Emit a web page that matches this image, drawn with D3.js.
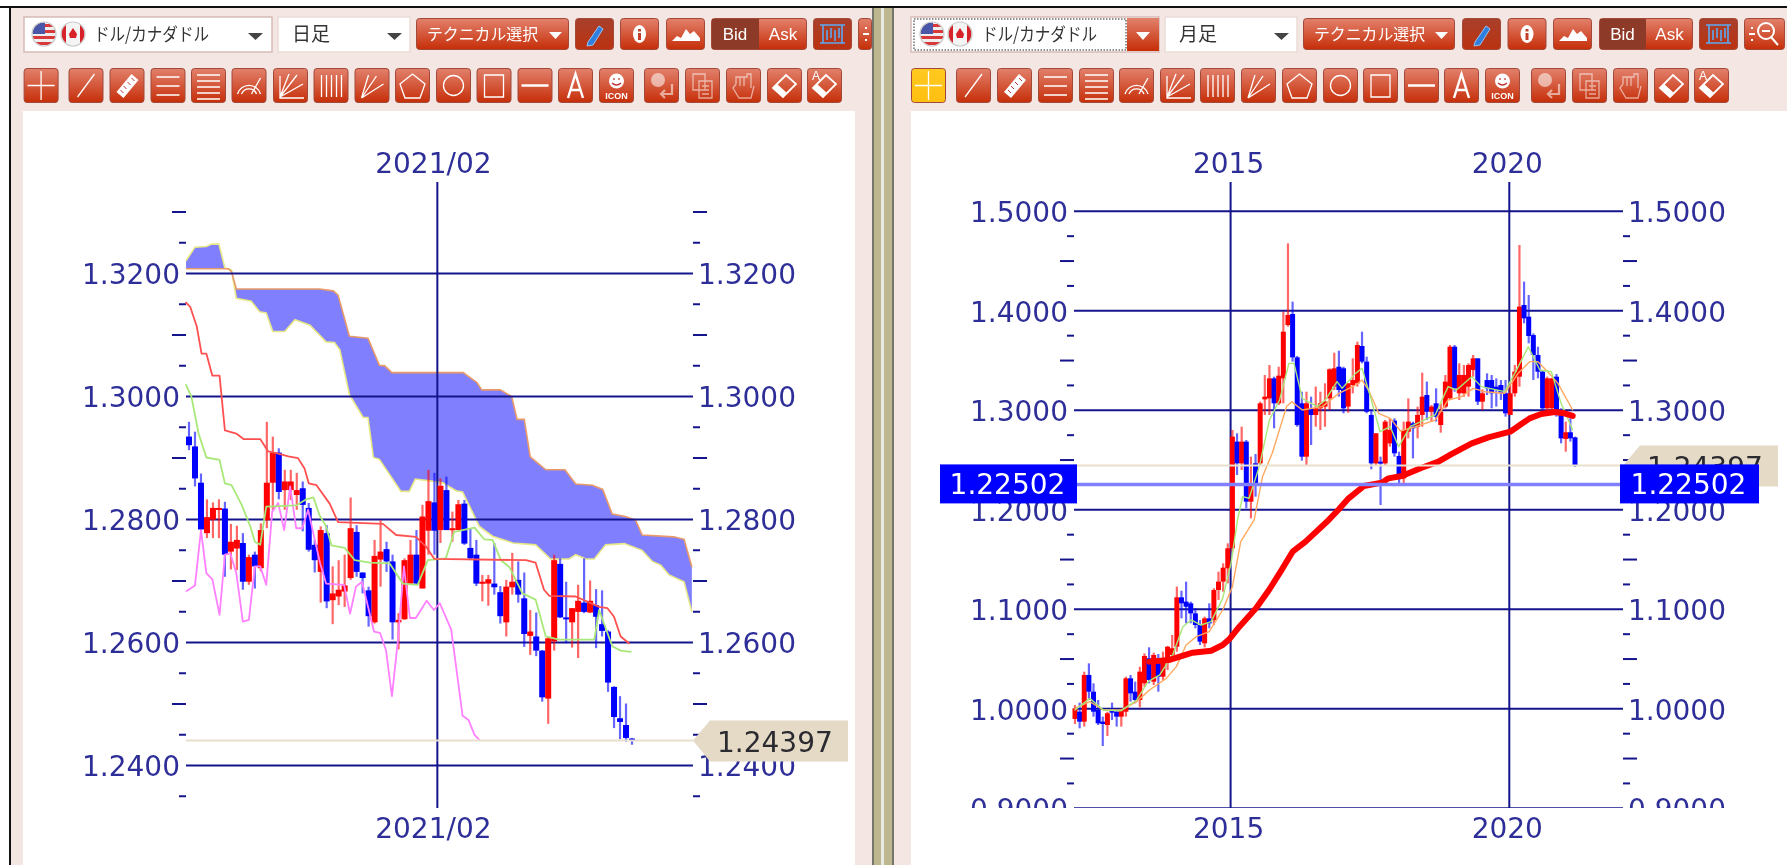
<!DOCTYPE html>
<html>
<head>
<meta charset="utf-8">
<script src="https://cdn.jsdelivr.net/npm/d3@7"></script>
<style>
html, body { margin: 0; padding: 0; background: #fff; overflow: hidden; }
svg { display: block; filter: blur(0.55px); }
.axis text { font: 28px "DejaVu Sans", sans-serif; fill: #2e2e98; }
.axis line { stroke: #14148c; stroke-width: 2; }
.tbtext { font-family: "Liberation Sans", sans-serif; fill: #fff; }
.jp { font-family: "Noto Sans CJK JP", sans-serif; }
</style>
</head>
<body>
<div id="chart"></div>
<script>
// ---- daily chart (left), USD/CAD
const dailyHigh = [
  1.2958,1.2942,1.2874,1.2832,1.2827,1.2832,1.2828,1.2792,1.2789,1.2777,
  1.2742,1.2747,1.2793,1.2958,1.2934,1.2915,1.2880,1.2880,1.2875,1.2861,
  1.2826,1.2766,1.2788,1.2790,1.2723,1.2733,1.2742,1.2835,1.2790,1.2713,
  1.2690,1.2766,1.2798,1.2763,1.2742,1.2647,1.2736,1.2766,1.2782,1.2823,
  1.2880,1.2875,1.2866,1.2869,1.2812,1.2831,1.2831,1.2785,1.2766,1.2709,
  1.2709,1.2761,1.2691,1.2701,1.2745,1.2731,1.2713,1.2652,1.2648,1.2587,
  1.2609,1.2742,1.2736,1.2698,1.2655,1.2693,1.2736,1.2700,1.2686,1.2684,
  1.2619,1.2528,1.2512,1.2500,1.2444];
const dailyOpen = [
  1.2934,1.2918,1.2859,1.2777,1.2799,1.2817,1.2817,1.2747,1.2752,1.2761,
  1.2698,1.2742,1.2720,1.2798,1.2859,1.2908,1.2847,1.2847,1.2839,1.2850,
  1.2818,1.2758,1.2714,1.2777,1.2668,1.2674,1.2682,1.2704,1.2779,1.2713,
  1.2684,1.2632,1.2734,1.2751,1.2731,1.2632,1.2637,1.2695,1.2742,1.2687,
  1.2781,1.2827,1.2782,1.2847,1.2782,1.2782,1.2825,1.2753,1.2742,1.2695,
  1.2695,1.2695,1.2681,1.2632,1.2689,1.2701,1.2671,1.2610,1.2609,1.2586,
  1.2508,1.2601,1.2727,1.2640,1.2632,1.2649,1.2664,1.2648,1.2660,1.2629,
  1.2617,1.2527,1.2476,1.2465,1.2443];
const dailyClose = [
  1.2920,1.2866,1.2783,1.2803,1.2818,1.2818,1.2742,1.2763,1.2766,1.2698,
  1.2738,1.2723,1.2782,1.2859,1.2908,1.2844,1.2861,1.2861,1.2847,1.2823,
  1.2750,1.2733,1.2782,1.2666,1.2679,1.2685,1.2692,1.2785,1.2714,1.2704,
  1.2642,1.2740,1.2747,1.2731,1.2632,1.2636,1.2733,1.2742,1.2695,1.2804,
  1.2829,1.2781,1.2854,1.2782,1.2785,1.2824,1.2760,1.2736,1.2695,1.2698,
  1.2702,1.2689,1.2642,1.2690,1.2698,1.2677,1.2613,1.2617,1.2586,1.2510,
  1.2606,1.2733,1.2640,1.2637,1.2655,1.2667,1.2649,1.2667,1.2641,1.2618,
  1.2534,1.2478,1.2470,1.2444,1.2441];
const dailyLow = [
  1.2912,1.2853,1.2782,1.2769,1.2769,1.2769,1.2706,1.2718,1.2717,1.2685,
  1.2693,1.2687,1.2715,1.2785,1.2815,1.2832,1.2815,1.2831,1.2815,1.2780,
  1.2747,1.2713,1.2664,1.2655,1.2629,1.2660,1.2657,1.2701,1.2706,1.2679,
  1.2625,1.2630,1.2690,1.2714,1.2604,1.2588,1.2636,1.2693,1.2693,1.2687,
  1.2742,1.2742,1.2761,1.2782,1.2763,1.2782,1.2758,1.2733,1.2691,1.2666,
  1.2659,1.2677,1.2630,1.2609,1.2677,1.2664,1.2592,1.2579,1.2577,1.2503,
  1.2467,1.2586,1.2639,1.2598,1.2591,1.2574,1.2647,1.2647,1.2590,1.2609,
  1.2519,1.2460,1.2442,1.2438,1.2433];

const spanAIdx = [-0.5,1,2.9,3.8,5,6,7.1,7.9,10.4,11.8,12.9,14,16,17.7,20.2,22.9,24.3,25.2,26.8,29.1,29.9,30.8,31.8,35.4,36.8,37.8,40.2,42.4,44.6,45.7,48.5,50.7,54.1,57.9,60.4,63.5,64.6,66.3,67.7,69.6,72.7,75.7,77.4,78.8,80.2,82.7,84];
const spanAVal = [1.3220,1.3242,1.3243,1.3247,1.3247,1.3208,1.3205,1.3159,1.3154,1.3137,1.3135,1.3105,1.3105,1.3124,1.3115,1.3088,1.3087,1.3075,1.3002,1.2965,1.2965,1.2900,1.2897,1.2845,1.2845,1.2865,1.2862,1.2859,1.2846,1.2844,1.2788,1.2772,1.2761,1.2758,1.2735,1.2735,1.2742,1.2735,1.2735,1.2758,1.2760,1.2749,1.2731,1.2725,1.2709,1.2698,1.2649];
const spanBIdx = [-0.5,6.6,7.1,7.9,21.8,24.1,24.9,26.8,29.9,31.8,32.7,33.9,45.8,48.1,48.9,52,53.9,54.8,56,57,59.6,62.8,64.6,67.4,69.1,70.7,72.9,74.6,75.7,81,82.7,84];
const spanBVal = [1.3207,1.3207,1.3202,1.3174,1.3174,1.3171,1.3164,1.3097,1.3094,1.3050,1.3049,1.3038,1.3038,1.3022,1.3010,1.3010,1.2999,1.2962,1.2962,1.2901,1.2880,1.2880,1.2857,1.2855,1.2848,1.2808,1.2804,1.2798,1.2774,1.2771,1.2767,1.2722];
const kijunIdx = [-0.5,0.2,1.3,2.1,2.9,3.9,5.1,6,7.9,9.1,11.9,13.2,14.6,16.6,18.2,19.3,20,21.3,23.5,24.9,32.4,34.6,37.9,39.6,41,56.3,57.9,59.3,60.2,64.6,68.5,69.9,71,72.1,73.5];
const kijunVal = [1.3152,1.3145,1.3113,1.3069,1.3069,1.3033,1.3033,1.2944,1.2939,1.2930,1.2930,1.2910,1.2907,1.2902,1.2899,1.2882,1.2858,1.2855,1.2825,1.2795,1.2792,1.2774,1.2771,1.2755,1.2735,1.2733,1.2729,1.2685,1.2675,1.2674,1.2657,1.2655,1.2641,1.2609,1.2598];
const tenkanIdx = [-0.5,0.4,1.6,2.9,5.1,6,7.1,8.8,10.2,11,11.9,12.9,17.9,19.6,20.8,21.8,22.9,23.8,26,27.7,30.2,33.5,35.7,38.2,39.9,42.9,44.3,47.7,49.3,50.7,52.1,53.5,55.7,57.9,59.6,61.8,67.7,68.5,70.7,72.1,73.8];
const tenkanVal = [1.3018,1.2999,1.2939,1.2900,1.2896,1.2858,1.2855,1.2823,1.2789,1.2763,1.2758,1.2820,1.2822,1.2832,1.2835,1.2806,1.2788,1.2757,1.2753,1.2733,1.2729,1.2728,1.2695,1.2693,1.2733,1.2736,1.2779,1.2786,1.2767,1.2766,1.2733,1.2722,1.2679,1.2669,1.2609,1.2604,1.2604,1.2652,1.2593,1.2586,1.2584];
const chikouIdx = [-0.4,1,2,2.9,3.9,5.1,6,6.9,7.9,9,10,11,11.9,12.9,13.9,14.9,15.9,16.9,17.9,18.9,19.9,20.9,21.9,22.9,25.9,26.9,27.9,28.9,30.9,31.9,32.9,33.9,34.9,35.9,36.9,37.9,39.7,40.9,41.9,43.8,45.7,46.7,47.7,48.5];
const chikouVal = [1.2683,1.2692,1.2782,1.2712,1.2702,1.2644,1.2742,1.2744,1.2712,1.2633,1.2636,1.2723,1.2723,1.2693,1.2812,1.2826,1.2782,1.2853,1.2785,1.2785,1.2815,1.2771,1.2728,1.2695,1.2693,1.2646,1.2690,1.2698,1.2617,1.2615,1.2587,1.2512,1.2603,1.2723,1.2639,1.2639,1.2667,1.2652,1.2663,1.2620,1.2480,1.2473,1.2449,1.2441];

const dailyMajor = [1.32,1.30,1.28,1.26,1.24];
const dailyLong = [1.33,1.31,1.29,1.27,1.25];
const dailyShort = [1.325,1.315,1.305,1.295,1.285,1.275,1.265,1.255,1.245,1.235];
const dailyDateIdx = [41.4];
const dailyDateLabels = ["2021/02"];

// ---- monthly chart (right)
const monthlyHigh = [
  1.0033,1.0057,1.0368,1.0452,1.0251,1.0083,0.9916,0.9966,1.0057,1.0000,
  1.0000,1.0318,1.0335,1.0268,1.0418,1.0552,1.0613,1.0559,1.0546,1.0569,
  1.0626,1.0737,1.1223,1.1182,1.1273,1.1072,1.1005,1.0888,1.0921,1.1055,
  1.1206,1.1373,1.1457,1.1658,1.2797,1.2764,1.2830,1.2697,1.2529,1.2556,
  1.3082,1.3350,1.3450,1.3333,1.3433,1.3986,1.4673,1.4087,1.3541,1.3182,
  1.3182,1.3132,1.3233,1.3182,1.3266,1.3417,1.3574,1.3594,1.3433,1.3266,
  1.3517,1.3685,1.3785,1.3534,1.2998,1.2764,1.2529,1.2898,1.2914,1.2914,
  1.2579,1.2881,1.3115,1.2881,1.3032,1.3373,1.3283,1.3048,1.3216,1.3065,
  1.3350,1.3651,1.3651,1.3467,1.3450,1.3467,1.3551,1.3517,1.3206,1.3366,
  1.3350,1.3316,1.3299,1.3299,1.3249,1.3450,1.4656,1.4288,1.4154,1.3768,
  1.3634,1.3400,1.3333,1.3316,1.3360,1.3015,1.2881,1.2914,1.2730];
const monthlyOpen = [
  0.9893,0.9966,0.9866,1.0335,1.0167,0.9983,0.9866,0.9832,0.9983,0.9966,
  0.9916,0.9966,1.0301,1.0167,1.0083,1.0251,1.0502,1.0268,1.0452,1.0318,
  1.0485,1.0536,1.0619,1.1115,1.1072,1.1055,1.0954,1.0837,1.0653,1.0904,
  1.0888,1.1189,1.1273,1.1407,1.1608,1.2680,1.2462,1.2680,1.2077,1.2462,
  1.2462,1.3105,1.3115,1.3316,1.3065,1.3316,1.3852,1.3963,1.3527,1.3065,
  1.2529,1.3015,1.2948,1.3015,1.3032,1.3115,1.3233,1.3433,1.3417,1.3032,
  1.3249,1.3266,1.3641,1.3484,1.2948,1.2462,1.2479,1.2462,1.2663,1.2891,
  1.2536,1.2311,1.2780,1.2864,1.2830,1.2948,1.3149,1.2981,1.3065,1.2847,
  1.3032,1.3115,1.3634,1.3166,1.3166,1.3233,1.3400,1.3517,1.3082,1.3299,
  1.3299,1.3233,1.3249,1.3166,1.2948,1.3166,1.3333,1.4053,1.3936,1.3751,
  1.3551,1.3383,1.3015,1.3015,1.3333,1.2948,1.2707,1.2774,1.2723];
const monthlyClose = [
  1.0000,0.9866,1.0335,1.0167,0.9966,0.9849,0.9842,0.9950,0.9956,0.9916,
  0.9983,1.0301,1.0150,1.0083,1.0368,1.0526,1.0285,1.0536,1.0318,1.0492,
  1.0619,1.0603,1.1115,1.1055,1.1021,1.0954,1.0837,1.0670,1.0904,1.0854,
  1.1189,1.1273,1.1413,1.1608,1.2730,1.2462,1.2680,1.2077,1.2244,1.2261,
  1.3065,1.3132,1.3316,1.3065,1.3343,1.3785,1.3953,1.3527,1.2847,1.2529,
  1.3065,1.2948,1.3015,1.3065,1.3082,1.3407,1.3417,1.3199,1.3015,1.3266,
  1.3299,1.3651,1.3484,1.2981,1.2462,1.2764,1.2462,1.2881,1.2797,1.2563,
  1.2328,1.2797,1.2881,1.2814,1.2948,1.3132,1.2981,1.3032,1.2931,1.2981,
  1.3283,1.3634,1.3216,1.3350,1.3350,1.3450,1.3517,1.3082,1.3166,1.3216,
  1.3166,1.3199,1.3166,1.2965,1.3166,1.3383,1.4037,1.3919,1.3742,1.3551,
  1.3383,1.3015,1.3316,1.3316,1.2998,1.2713,1.2774,1.2713,1.2440];
const monthlyLow = [
  0.9842,0.9799,0.9816,1.0083,0.9916,0.9832,0.9621,0.9722,0.9882,0.9816,
  0.9816,0.9916,1.0067,1.0050,1.0010,1.0217,1.0251,1.0234,1.0167,1.0285,
  1.0385,1.0485,1.0569,1.0904,1.0854,1.0854,1.0804,1.0636,1.0613,1.0804,
  1.0837,1.1089,1.1172,1.1256,1.1574,1.2345,1.2395,1.2010,1.1909,1.2127,
  1.2445,1.2948,1.2948,1.2814,1.3048,1.3065,1.3836,1.3484,1.2830,1.2489,
  1.2445,1.2646,1.2830,1.2797,1.2830,1.2998,1.3199,1.3132,1.2965,1.2971,
  1.3165,1.3233,1.3467,1.2965,1.2402,1.2445,1.2043,1.2445,1.2629,1.2529,
  1.2244,1.2244,1.2713,1.2512,1.2713,1.2830,1.2897,1.2881,1.2881,1.2770,
  1.3015,1.3098,1.3182,1.3099,1.3132,1.3132,1.3333,1.3048,1.2998,1.3149,
  1.3015,1.3032,1.3099,1.2931,1.2948,1.3132,1.3233,1.3869,1.3668,1.3299,
  1.3316,1.2998,1.2998,1.2998,1.2931,1.2663,1.2579,1.2680,1.2425];

const ma60Idx = [16.1,20.4,25.4,29.4,31.9,33.3,35.5,39.1,41.9,44.4,47,49.8,54.8,57,59.1,62.4,66.3,67.7,70.6,74.9,78.5,81.4,85.7,89.3,94,96.1,98.2,100.7,103.6,105.7,107.5];
const ma60Val = [1.0469,1.0486,1.0559,1.0579,1.0636,1.0693,1.0820,1.1005,1.1189,1.1373,1.1574,1.1675,1.1893,1.2000,1.2110,1.2234,1.2268,1.2311,1.2335,1.2418,1.2479,1.2556,1.2663,1.2723,1.2780,1.2847,1.2914,1.2958,1.2978,1.2965,1.2938];
const ma6Idx = [0,3.2,6.1,10,13.3,15.8,18.3,21.1,23.3,25.1,27.2,29.4,31.9,33.7,35.1,36.2,37.6,39.8,42,44.2,46.2,47.3,49.1,52.3,54.1,56.6,57.7,60.6,62,63.8,65.9,68.1,69.9,72.4,77.8,80.6,82.4,85.7,87.8,92.8,95,97.9,100.4,102.9,105,107.5];
const ma6Val = [0.9983,1.0100,0.9983,0.9976,1.0083,1.0268,1.0335,1.0536,1.0820,1.0888,1.0837,1.0871,1.1105,1.1457,1.1893,1.2127,1.2111,1.2429,1.2898,1.3099,1.3467,1.3467,1.3115,1.3032,1.3099,1.3283,1.3216,1.3366,1.3417,1.3132,1.2780,1.2830,1.2629,1.2830,1.2948,1.3233,1.3199,1.3333,1.3233,1.3182,1.3366,1.3634,1.3400,1.3383,1.3065,1.2797];
const ma12Idx = [0,3.2,6.1,10,13.3,16.1,19.7,21.9,24,26.2,29,31.9,34,35.8,38.7,40.5,42.6,45.7,46.8,49.1,53.4,57,60.6,62,63.4,65.6,68.1,70.3,73.5,77.8,80.6,83.5,86,88.5,92.8,95.7,98.2,100,102.1,104.3,107.5];
const ma12Val = [0.9999,1.0067,0.9983,0.9983,1.0067,1.0184,1.0301,1.0419,1.0636,1.0720,1.0770,1.0988,1.1222,1.1675,1.1893,1.2328,1.2563,1.3032,1.3082,1.2998,1.3032,1.3165,1.3249,1.3299,1.3199,1.2965,1.2914,1.2787,1.2830,1.2897,1.3099,1.3132,1.3216,1.3182,1.3166,1.3366,1.3484,1.3484,1.3383,1.3266,1.2998];

const monthlyMajor = [1.5,1.4,1.3,1.2,1.1,1.0,0.9];
const monthlyLong = [1.45,1.35,1.25,1.15,1.05,0.95];
const monthlyShort = [1.475,1.425,1.375,1.325,1.275,1.225,1.175,1.125,1.075,1.025,0.975,0.925];
const monthlyDateIdx = [33.5,93.7];
const monthlyDateLabels = ["2015","2020"];

const lastPrice = 1.24397;
const linePrice = 1.22502;

const WIDTH = 1787, HEIGHT = 865;
const svg = d3.select("#chart").append("svg").attr("width", WIDTH).attr("height", HEIGHT);
const defs = svg.append("defs");

// button gradients
function gradient(id, top, bottom) {
    let gr = defs.append("linearGradient").attr("id", id).attr("x1", 0).attr("y1", 0).attr("x2", 0).attr("y2", 1);
    gr.append("stop").attr("offset", "0%").attr("stop-color", top);
    gr.append("stop").attr("offset", "100%").attr("stop-color", bottom);
}
gradient("btn", "#e2816c", "#c62e08");
gradient("btnDark", "#a8402c", "#bb3210");
gradient("btnHot", "#ffc91f", "#ffbf10");

// page background
svg.append("rect").attr("width", WIDTH).attr("height", HEIGHT).attr("fill", "#fff");
svg.append("rect").attr("x", 11).attr("y", 8).attr("width", WIDTH - 11).attr("height", HEIGHT - 8).attr("fill", "#f3e6e3");
svg.append("rect").attr("x", 23).attr("y", 111).attr("width", 832).attr("height", HEIGHT - 111).attr("fill", "#fff");
svg.append("rect").attr("x", 911).attr("y", 111).attr("width", WIDTH - 911).attr("height", HEIGHT - 111).attr("fill", "#fff");
svg.append("rect").attr("x", 0).attr("y", 6).attr("width", WIDTH).attr("height", 2).attr("fill", "#111");
svg.append("rect").attr("x", 9).attr("y", 6).attr("width", 2).attr("height", HEIGHT - 6).attr("fill", "#111");

// splitter between the panels
[[872, 2, "#77766a"], [874, 7, "#bdb78f"], [881, 3, "#e9e9e4"], [884, 8, "#bdb78f"], [892, 2, "#77766a"]].forEach(s => {
    svg.append("rect").attr("x", s[0]).attr("y", 8).attr("width", s[1]).attr("height", HEIGHT - 8).attr("fill", s[2]);
});

function button(g, x, y, w, h, fill) {
    return g.append("rect").attr("x", x + .5).attr("y", y + .5).attr("width", w - 1).attr("height", h - 1)
        .attr("rx", 3).attr("fill", "url(#" + (fill || "btn") + ")").attr("stroke", "#a2493a");
}

function flags(g, x1, x2, cy) {
    let id = "f" + x1;
    let cp = defs.append("clipPath").attr("id", id);
    cp.append("circle").attr("cx", x1).attr("cy", cy).attr("r", 11.5);
    let us = g.append("g").attr("clip-path", "url(#" + id + ")");
    us.append("rect").attr("x", x1 - 12).attr("y", cy - 12).attr("width", 24).attr("height", 24).attr("fill", "#eee");
    d3.range(4).forEach(i => us.append("rect").attr("x", x1 - 12).attr("y", cy - 10 + i * 6).attr("width", 24).attr("height", 3).attr("fill", "#d8383a"));
    us.append("rect").attr("x", x1 - 12).attr("y", cy - 12).attr("width", 13).attr("height", 12).attr("fill", "#4a56a8");
    g.append("circle").attr("cx", x1).attr("cy", cy).attr("r", 12).attr("fill", "none").attr("stroke", "#c8c8c8").attr("stroke-width", 1.2);
    let id2 = "c" + x2;
    defs.append("clipPath").attr("id", id2).append("circle").attr("cx", x2).attr("cy", cy).attr("r", 11.5);
    let ca = g.append("g").attr("clip-path", "url(#" + id2 + ")");
    ca.append("rect").attr("x", x2 - 12).attr("y", cy - 12).attr("width", 24).attr("height", 24).attr("fill", "#f4f4f4");
    ca.append("rect").attr("x", x2 - 12).attr("y", cy - 12).attr("width", 5).attr("height", 24).attr("fill", "#d8222a");
    ca.append("rect").attr("x", x2 + 7).attr("y", cy - 12).attr("width", 5).attr("height", 24).attr("fill", "#d8222a");
    ca.append("path").attr("d", `M${x2},${cy - 6}L${x2 + 4},${cy}L${x2 + 3},${cy + 4}L${x2 - 3},${cy + 4}L${x2 - 4},${cy}Z`).attr("fill", "#d8222a");
    g.append("circle").attr("cx", x2).attr("cy", cy).attr("r", 12).attr("fill", "none").attr("stroke", "#c8c8c8").attr("stroke-width", 1.2);
}

function caret(g, x, y, w, h, col) {
    g.append("path").attr("d", `M${x},${y}L${x + w},${y}L${x + w / 2},${y + h}Z`).attr("fill", col);
}

// the little pictures on the second toolbar row, in a 35x35 box
const ICONS = [
    "M17.5,3V32M4,17.5H31",
    "M9,29L26,6",
    "",
    "M6,9H29M6,18H29M6,27H29",
    "M6,7H29M6,13H29M6,19H29M6,25H29M6,31H29",
    "M6,26A12,12 0 0 1 29,26M10,26A8,8 0 0 1 25,26M20,26L29,10",
    "M7,29L16,6M7,29L24,7M7,29L30,16M7,8V30H31",
    "M8,7V29M13,7V29M18,7V29M23,7V29M28,7V29",
    "M7,30L14,7M7,30L22,8M7,30L29,16",
    "M17.5,6L30,16L25,30H10L5,16Z",
    "",
    "M8,7H27V29H8Z",
    "M4,17.5H31",
    "M10,30L17.5,6L25,30M12.5,22H22.5",
    "", "", "", "", "", ""
];

function iconRow(g, starts, y, hot) {
    starts.forEach((x, i) => {
        button(g, x, y, 35, 35, (hot && i === 0) ? "btnHot" : "btn");
        let ig = g.append("g").attr("transform", `translate(${x},${y})`)
            .attr("fill", "none").attr("stroke", "#fff").attr("stroke-width", 1.3);
        if (ICONS[i]) ig.append("path").attr("d", ICONS[i]);
        if (i === 2) ig.append("path").attr("d", "M7,24L22,6L29,12L14,30Z").attr("fill", "#fff").attr("stroke", "none");
        if (i === 2) ig.append("path").attr("d", "M11,22L14,25M14,18L17,21M18,14L21,17M22,10L25,13").attr("stroke", "#b33").attr("stroke-width", 1);
        if (i === 10) ig.append("circle").attr("cx", 17.5).attr("cy", 17.5).attr("r", 10);
        if (i === 12) ig.select("path").attr("stroke-width", 2.5);
        if (i === 13) ig.select("path").attr("stroke-width", 2.4);
        if (i === 14) {
            ig.append("circle").attr("cx", 17.5).attr("cy", 13).attr("r", 7.5).attr("fill", "#fff").attr("stroke", "none");
            ig.append("path").attr("d", "M13,15Q17.5,19 22,15M15,10V12M20,10V12").attr("stroke", "#b33").attr("stroke-width", 1.2);
            ig.append("text").attr("x", 17.5).attr("y", 31).attr("text-anchor", "middle").attr("class", "tbtext")
                .attr("font-size", 9).attr("font-weight", "bold").attr("stroke", "none").text("ICON");
        }
        if (i === 15) {
            ig.attr("opacity", .55);
            ig.append("circle").attr("cx", 14).attr("cy", 12).attr("r", 7).attr("fill", "#fff").attr("stroke", "none");
            ig.append("path").attr("d", "M28,16V26H17M21,22L17,26L21,30").attr("stroke-width", 2.2);
        }
        if (i === 16) { ig.attr("opacity", .55); ig.append("path").attr("d", "M8,6H20V22H8ZM14,13H27V30H14ZM17,18H24M17,22H24M17,26H24"); }
        if (i === 17) { ig.attr("opacity", .55); ig.append("path").attr("d", "M10,16V9H21V6H25V20M10,16L7,20L13,30H25L28,18M14,9V18M18,9V18"); }
        if (i === 18 || i === 19) {
            ig.append("path").attr("d", "M6,20L19,7L29,16L16,29Z").attr("stroke-width", 1.8);
            ig.append("path").attr("d", "M6,20L10,16L20,25L16,29Z").attr("fill", "#fff").attr("stroke", "none");
        }
        if (i === 19) {
            ig.append("text").attr("x", 9).attr("y", 12).attr("text-anchor", "middle").attr("class", "tbtext")
                .attr("font-size", 12).attr("stroke", "none").text("A");
        }
    });
}

function toolbar(opt) {
    let g = svg.append("g");
    // pair select
    g.append("rect").attr("x", opt.sel[0]).attr("y", 17).attr("width", opt.sel[1] - opt.sel[0]).attr("height", 35)
        .attr("fill", "#fff").attr("stroke", "#d6bcb6").attr("stroke-width", 1.5);
    flags(g, opt.flag[0], opt.flag[1], 34);
    g.append("text").attr("class", "jp").attr("x", opt.pairText[0]).attr("y", 41)
        .attr("textLength", opt.pairText[1]).attr("lengthAdjust", "spacingAndGlyphs")
        .attr("font-size", 18).attr("fill", "#333").text("ドル/カナダドル");
    if (opt.focus) {
        g.append("rect").attr("x", opt.focus[0]).attr("y", 19).attr("width", opt.focus[1] - opt.focus[0]).attr("height", 31)
            .attr("fill", "none").attr("stroke", "#222").attr("stroke-dasharray", "1.5,1.5");
        g.append("rect").attr("x", opt.focus[1] + 1).attr("y", 18).attr("width", opt.sel[1] - opt.focus[1] - 1).attr("height", 33).attr("fill", "url(#btn)");
        caret(g, opt.focus[1] + 10, 32, 14, 8, "#fff");
    } else {
        caret(g, opt.sel[1] - 24, 33, 15, 7, "#444");
    }
    // period select
    g.append("rect").attr("x", opt.per[0]).attr("y", 17).attr("width", opt.per[1] - opt.per[0]).attr("height", 35)
        .attr("fill", "#fff").attr("stroke", "#ecdcd8").attr("stroke-width", 1.5);
    g.append("text").attr("class", "jp").attr("x", opt.per[0] + 14).attr("y", 41).attr("font-size", 19).attr("fill", "#333").text(opt.perText);
    caret(g, opt.per[1] - 23, 33, 15, 7, "#444");
    // technical button
    button(g, opt.tech[0], 18, opt.tech[1] - opt.tech[0], 32);
    g.append("text").attr("class", "jp").attr("x", opt.tech[0] + 11).attr("y", 40)
        .attr("textLength", 111).attr("lengthAdjust", "spacingAndGlyphs")
        .attr("font-size", 16).attr("fill", "#fff").text("テクニカル選択");
    caret(g, opt.tech[1] - 20, 32, 13, 7, "#fff");
    // pencil
    button(g, opt.pencil, 18, 39, 32, "btnDark");
    g.append("path").attr("transform", `translate(${opt.pencil},18)`)
        .attr("d", "M13,24L24,8L28,11L18,27L12,28Z").attr("fill", "#2f7fe0").attr("stroke", "#9cc4f0");
    // info
    button(g, opt.info, 18, 39, 32);
    g.append("path").attr("transform", `translate(${opt.info},18)`)
        .attr("d", "M13,16a6.5,9 0 1 1 13,0a6.5,9 0 1 1 -13,0Z").attr("fill", "#fff");
    g.append("rect").attr("x", opt.info + 18).attr("y", 29).attr("width", 3).attr("height", 2.5).attr("fill", "#c0402a");
    g.append("rect").attr("x", opt.info + 18).attr("y", 33).attr("width", 3).attr("height", 7).attr("fill", "#c0402a");
    // mountain
    button(g, opt.mount, 18, 39, 32);
    g.append("path").attr("transform", `translate(${opt.mount},18)`)
        .attr("d", "M6,23L11,18L15,20L20,11L24,16L28,13L34,20V23Z").attr("fill", "#fff");
    // bid / ask
    button(g, opt.bid[0], 18, opt.bid[2] - opt.bid[0], 32);
    g.append("rect").attr("x", opt.bid[0] + 1).attr("y", 19).attr("width", opt.bid[1] - opt.bid[0] - 1).attr("height", 30).attr("fill", "#8e3a28");
    g.append("text").attr("class", "tbtext").attr("x", (opt.bid[0] + opt.bid[1]) / 2).attr("y", 40)
        .attr("text-anchor", "middle").attr("font-size", 17).text("Bid");
    g.append("text").attr("class", "tbtext").attr("x", (opt.bid[1] + opt.bid[2]) / 2).attr("y", 40)
        .attr("text-anchor", "middle").attr("font-size", 17).text("Ask");
    // candle frame button
    button(g, opt.frame, 18, 39, 32, "btnDark");
    g.append("path").attr("transform", `translate(${opt.frame},18)`)
        .attr("d", "M7,7H32M7,25H32M10,7V25M29,7V25M14,12V22M18,10V20M22,12V23M26,10V20")
        .attr("fill", "none").attr("stroke", "#5ca8f2").attr("stroke-width", 1.6);
    // the last button
    button(g, opt.last[0], 18, opt.last[1], 32);
    let lg = g.append("g").attr("transform", `translate(${opt.last[0]},18)`).attr("fill", "none").attr("stroke", "#fff").attr("stroke-width", 2);
    lg.append("path").attr("d", "M8,9V11M8,21V23M5,16H11").attr("stroke-width", 2);
    if (opt.last[2]) {
        lg.append("circle").attr("cx", 22).attr("cy", 13).attr("r", 8);
        lg.append("path").attr("d", "M18,13H26M27,19L34,27");
    }
    iconRow(g, opt.row, 68, opt.hot);
}

toolbar({
    sel: [24, 272], flag: [44, 73], pairText: [94, 115], per: [278, 410], perText: "日足",
    tech: [416, 569], pencil: 575, info: 620, mount: 666, bid: [711, 759, 807], frame: 813, last: [858, 14, false],
    row: [23.6, 68.5, 109.5, 150.5, 191, 231.5, 273, 313.5, 354.5, 395, 436, 476.5, 517.5, 558, 599, 644, 685, 726, 767, 807]
});
toolbar({
    sel: [911, 1159], flag: [932, 960], pairText: [982, 115], focus: [914, 1126], per: [1165, 1297], perText: "月足",
    tech: [1303, 1455], pencil: 1462, info: 1507.5, mount: 1553, bid: [1599, 1646, 1693], frame: 1699, last: [1744, 41, true],
    hot: true,
    row: [911, 956, 997, 1038, 1079, 1119, 1160, 1200, 1241, 1282, 1323, 1363, 1404, 1444, 1485, 1531, 1572, 1613, 1654, 1694]
});

// one chart panel
function drawChart(cfg) {
    let g = svg.append("g");
    let x = d3.scaleLinear().domain(cfg.xDomain).range(cfg.xRange);
    let y = d3.scaleLinear().domain(cfg.yDomain).range(cfg.yRange);
    let line = d3.line().x(d => x(d[0])).y(d => y(d[1]));

    let clipId = "clip" + cfg.name;
    defs.append("clipPath").attr("id", clipId).append("rect")
        .attr("x", cfg.gridLeft - 120).attr("y", 120).attr("width", cfg.gridRight - cfg.gridLeft + 240).attr("height", 688);

    // kumo first, everything else goes above it
    if (cfg.spanA) {
        let a = d3.zip(cfg.spanA[0], cfg.spanA[1]);
        let b = d3.zip(cfg.spanB[0], cfg.spanB[1]);
        g.append("path").attr("d", line(a.concat(b.slice().reverse()) ) + "Z").attr("fill", "#8080ff");
        g.append("path").attr("d", line(a)).attr("fill", "none").attr("stroke", "#e8e888").attr("stroke-width", 1.6);
        g.append("path").attr("d", line(b)).attr("fill", "none").attr("stroke", "#e89a6a").attr("stroke-width", 1.6);
    }

    // grid with labels
    let ax = g.append("g").attr("clip-path", `url(#${clipId})`);
    let nudge = s => s.selectAll("text").attr("transform", "translate(0,2)");
    ax.append("g").attr("class", "axis").attr("transform", `translate(${cfg.gridLeft},0)`)
        .call(d3.axisLeft(y).tickValues(cfg.major).tickFormat(d3.format(".4f"))
            .tickSize(-(cfg.gridRight - cfg.gridLeft)).tickPadding(6))
        .call(s => s.select(".domain").remove()).call(nudge);
    ax.append("g").attr("class", "axis").attr("transform", `translate(${cfg.gridRight},0)`)
        .call(d3.axisRight(y).tickValues(cfg.major).tickFormat(d3.format(".4f")).tickSize(0).tickPadding(5))
        .call(s => s.select(".domain").remove()).call(nudge);
    // minor ticks both sides
    [[d3.axisLeft, cfg.gridLeft], [d3.axisRight, cfg.gridRight]].forEach(side => {
        ax.append("g").attr("class", "axis").attr("transform", `translate(${side[1]},0)`)
            .call(side[0](y).tickValues(cfg.long).tickFormat("").tickSize(14))
            .call(s => s.select(".domain").remove());
        ax.append("g").attr("class", "axis").attr("transform", `translate(${side[1]},0)`)
            .call(side[0](y).tickValues(cfg.short).tickFormat("").tickSize(7))
            .call(s => s.select(".domain").remove());
    });
    // date lines
    let dateFmt = (d, i) => cfg.dateLabels[i];
    let shift = s => s.selectAll("text").attr("dx", cfg.dateDx);
    g.append("g").attr("class", "axis").attr("transform", "translate(0,182)")
        .call(d3.axisTop(x).tickValues(cfg.dateIdx).tickFormat(dateFmt).tickSize(-626).tickPadding(9))
        .call(s => s.select(".domain").remove()).call(shift);
    g.append("g").attr("class", "axis").attr("transform", "translate(0,808)")
        .call(d3.axisBottom(x).tickValues(cfg.dateIdx).tickFormat(dateFmt).tickSize(0).tickPadding(10))
        .call(s => s.select(".domain").remove()).call(shift);

    // candles
    let cols = i => cfg.close[i] >= cfg.open[i] ? "#ff0000" : "#0000ff";
    let bars = d3.range(cfg.open.length);
    g.append("g").selectAll("line").data(bars).join("line")
        .attr("x1", i => x(i)).attr("x2", i => x(i))
        .attr("y1", i => y(cfg.high[i])).attr("y2", i => y(cfg.low[i]))
        .attr("stroke", cols).attr("stroke-width", 2.2).attr("stroke-opacity", .6);
    g.append("g").selectAll("rect").data(bars).join("rect")
        .attr("x", i => x(i) - cfg.bodyW / 2).attr("width", cfg.bodyW)
        .attr("y", i => Math.min(y(cfg.open[i]), y(cfg.close[i])))
        .attr("height", i => Math.max(2, Math.abs(y(cfg.open[i]) - y(cfg.close[i]))))
        .attr("fill", cols);

    cfg.lines.forEach(l => {
        g.append("path").attr("d", line(d3.zip(l[0], l[1]))).attr("fill", "none")
            .attr("stroke", l[2]).attr("stroke-width", l[3]).attr("stroke-linejoin", "round").attr("stroke-linecap", "round");
    });

    // last price marker
    let py = y(lastPrice);
    g.append("line").attr("x1", cfg.gridLeft).attr("x2", cfg.gridRight).attr("y1", py).attr("y2", py)
        .attr("stroke", "#e8dfcc").attr("stroke-width", 2);
    let t = cfg.gridRight, r = cfg.tagRight;
    g.append("path").attr("d", `M${t},${py}L${t + 17},${py - 20}L${r},${py - 20}L${r},${py + 21}L${t + 17},${py + 21}Z`).attr("fill", "#e4dac6");
    g.append("text").attr("x", t + 24).attr("y", py + 11).attr("font-family", "DejaVu Sans").attr("font-size", 28)
        .attr("fill", "#2a2a30").text(d3.format(".5f")(lastPrice));

    // horizontal drawn line with the two blue labels
    if (cfg.hline) {
        let hy = y(linePrice);
        g.append("line").attr("x1", cfg.gridLeft).attr("x2", cfg.gridRight).attr("y1", hy).attr("y2", hy)
            .attr("stroke", "#8080ff").attr("stroke-width", 3.5);
        [[940, 137], [1620, 139]].forEach(b => {
            g.append("rect").attr("x", b[0]).attr("y", hy - 20).attr("width", b[1]).attr("height", 39).attr("fill", "#0000ff");
            g.append("text").attr("x", b[0] + b[1] / 2 - 1).attr("y", hy + 10).attr("text-anchor", "middle")
                .attr("font-family", "DejaVu Sans").attr("font-size", 28).attr("fill", "#fff").text(d3.format(".5f")(linePrice));
        });
    }
}

drawChart({
    name: "daily",
    xDomain: [0, 74], xRange: [189, 632],
    yDomain: [1.32, 1.24], yRange: [273, 765],
    gridLeft: 186, gridRight: 693, tagRight: 848, dateDx: -4,
    major: dailyMajor, long: dailyLong, short: dailyShort,
    dateIdx: dailyDateIdx, dateLabels: dailyDateLabels,
    open: dailyOpen, high: dailyHigh, low: dailyLow, close: dailyClose, bodyW: 6,
    spanA: [spanAIdx, spanAVal], spanB: [spanBIdx, spanBVal],
    lines: [
        [chikouIdx, chikouVal, "#ff80ff", 1.8],
        [tenkanIdx, tenkanVal, "#a8e878", 1.8],
        [kijunIdx, kijunVal, "#ff5050", 1.8]
    ]
});

drawChart({
    name: "monthly",
    xDomain: [0, 108], xRange: [1075, 1575],
    yDomain: [1.0, 1.4], yRange: [708.3, 310.3],
    gridLeft: 1074, gridRight: 1623, tagRight: 1778, dateDx: -2,
    major: monthlyMajor, long: monthlyLong, short: monthlyShort,
    dateIdx: monthlyDateIdx, dateLabels: monthlyDateLabels,
    open: monthlyOpen, high: monthlyHigh, low: monthlyLow, close: monthlyClose, bodyW: 5,
    hline: true,
    lines: [
        [ma12Idx, ma12Val, "#ffa860", 1.4],
        [ma6Idx, ma6Val, "#a8e878", 1.4],
        [ma60Idx, ma60Val, "#ff0000", 6]
    ]
});
</script>
</body>
</html>
